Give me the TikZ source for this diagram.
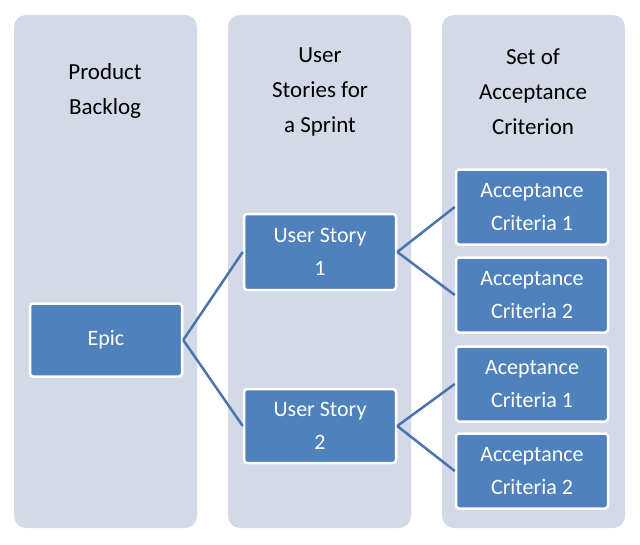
\documentclass[tikz,border=0pt]{standalone}
\usepackage{fontspec}
\setmainfont{Carlito}
\definecolor{colbg}{HTML}{D3D9E7}
\definecolor{nodebg}{HTML}{4F81BD}
\definecolor{edgec}{HTML}{4A74AC}
\begin{document}
\begin{tikzpicture}[x=1pt,y=-1pt,
  col/.style={fill=colbg,rounded corners=12pt},
  box/.style={fill=nodebg,draw=white,line width=2.5pt,rounded corners=3pt,text=white,font=\fontsize{22}{33}\selectfont,align=center,minimum width=152pt,inner sep=0pt},
  hdr/.style={font=\fontsize{23}{35}\selectfont,align=center,text=black},
  conn/.style={draw=edgec,line width=2.5pt}]
\useasboundingbox (0,0) rectangle (640,544);
\fill[white] (0,0) rectangle (640,544);
\fill[col] (14,15) rectangle (197,528);
\fill[col] (228,15) rectangle (411,528);
\fill[col] (442,15) rectangle (625,528);
\node[hdr] (h1) at (105,91) {Product\\Backlog};
\node[hdr] (h2) at (320,92) {User\\Stories for\\a Sprint};
\node[hdr] (h3) at (533,92) {Set of\\Acceptance\\Criterion};
\node[box,minimum height=73pt] (epic) at (106,340) {Epic};
\node[box,minimum height=76pt] (us1) at (320,252) {User Story\\1};
\node[box,minimum height=74pt] (us2) at (320,426) {User Story\\2};
\node[box,minimum height=75pt] (a1) at (532,207) {Acceptance\\Criteria 1};
\node[box,minimum height=75pt] (a2) at (532,295) {Acceptance\\Criteria 2};
\node[box,minimum height=75pt] (a3) at (532,384) {Aceptance\\Criteria 1};
\node[box,minimum height=75pt] (a4) at (532,471) {Acceptance\\Criteria 2};
\draw[conn] (epic.east) -- (us1.west);
\draw[conn] (epic.east) -- (us2.west);
\draw[conn] (us1.east) -- (a1.west);
\draw[conn] (us1.east) -- (a2.west);
\draw[conn] (us2.east) -- (a3.west);
\draw[conn] (us2.east) -- (a4.west);
\end{tikzpicture}
\end{document}
